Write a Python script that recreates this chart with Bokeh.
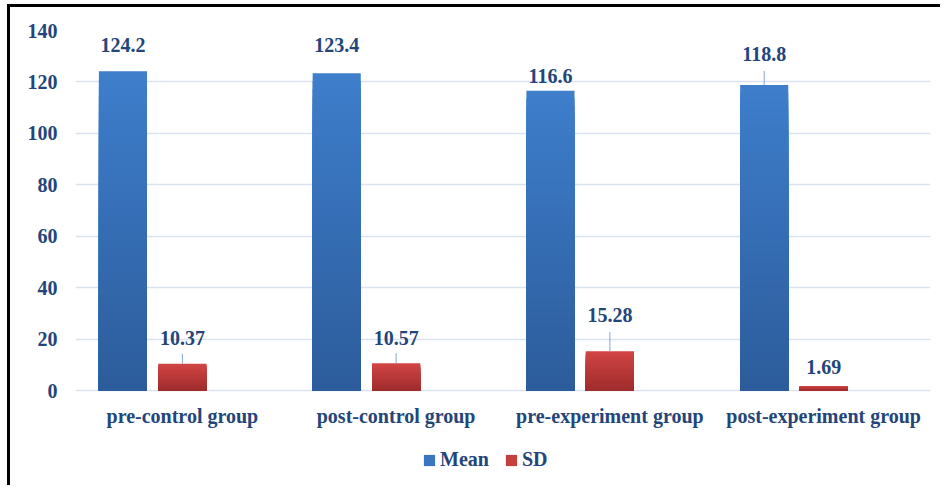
import math
from bokeh.plotting import figure
from bokeh.models import (ColumnDataSource, FactorRange, FixedTicker, Legend,
                          LegendItem, Range1d)
from bokeh.transform import dodge
from bokeh.core.properties import value
from bokeh.embed import file_html
from bokeh.resources import INLINE

# ---------------- data ----------------
categories = ["pre-control group", "post-control group",
              "pre-experiment group", "post-experiment group"]
mean_values = [124.2, 123.4, 116.6, 118.8]
sd_values = [10.37, 10.57, 15.28, 1.69]
mean_labels = ["124.2", "123.4", "116.6", "118.8"]
sd_labels = ["10.37", "10.57", "15.28", "1.69"]
y_ticks = [0, 20, 40, 60, 80, 100, 120, 140]

# ---------------- style ----------------
label_offsets_mean = [26, 28, 15, 31]     # px above bar top
label_offsets_sd = [26, 25, 36, 19]
leader_len_mean = [0, 0, 0, 14]           # px (0 = no leader line)
leader_len_sd = [10, 10, 19, 0]

TXT = "#23457A"
FONT = "'Liberation Serif'"
FS = "20px"
MEAN_TOP, MEAN_BOT = "#3E7ECC", "#2C5C9B"
SD_TOP, SD_BOT = "#D24545", "#9F2C2C"
GRID = "#D9E2F1"
BAR_W = 0.225
OFF_MEAN, OFF_SD = -0.278, 0.0
N_SLICES = 40

W, H = 933, 481
TOP_PX, ZERO_PX = 23, 383          # canvas y of the 140 and 0 gridlines
Y_MAX = 140
px_per_unit = (ZERO_PX - TOP_PX) / Y_MAX
y_min = -(H - ZERO_PX) / px_per_unit

p = figure(x_range=FactorRange(*categories, range_padding=0),
           y_range=Range1d(y_min, Y_MAX), width=W, height=H,
           output_backend="svg", toolbar_location=None,
           min_border_left=65, min_border_right=13,
           min_border_top=TOP_PX, min_border_bottom=0)
p.styles = {"margin-left": "7px", "margin-top": "4px",
            "border-left": "3px solid black", "border-top": "3px solid black"}
p.outline_line_color = None
p.background_fill_color = "white"
p.border_fill_color = "white"


def hx(c):
    c = c.lstrip("#")
    return [int(c[i:i + 2], 16) for i in (0, 2, 4)]


def mix(a, b, t):
    a, b = hx(a), hx(b)
    return "#%02x%02x%02x" % tuple(int(round(a[i] + (b[i] - a[i]) * t)) for i in range(3))


def gradient_bars(vals, off, top_c, bot_c, n=N_SLICES):
    # overlapping slices from the baseline, tallest drawn first -> no seams
    cats, tops, cols = [], [], []
    for k in reversed(range(n)):
        col = mix(bot_c, top_c, (k + 0.5) / n)
        for c, v in zip(categories, vals):
            cats.append(c)
            tops.append(v * (k + 1) / n)
            cols.append(col)
    src = ColumnDataSource(dict(cat=cats, top=tops, color=cols))
    return p.vbar(x=dodge("cat", off, range=p.x_range), width=BAR_W, bottom=0,
                  top="top", source=src, fill_color="color", line_color=None)


r_mean = gradient_bars(mean_values, OFF_MEAN, MEAN_TOP, MEAN_BOT)
r_sd = gradient_bars(sd_values, OFF_SD, SD_TOP, SD_BOT)

# leader lines
for off, vals, lens in ((OFF_MEAN, mean_values, leader_len_mean),
                        (OFF_SD, sd_values, leader_len_sd)):
    keep = [i for i, L in enumerate(lens) if L > 0]
    s = ColumnDataSource(dict(cat=[categories[i] for i in keep],
                              y=[vals[i] for i in keep],
                              length=[lens[i] for i in keep]))
    p.ray(x=dodge("cat", off, range=p.x_range), y="y", length="length",
          length_units="screen", angle=math.pi / 2, source=s,
          line_color="#7FA7DA", line_width=1)

# value labels
for off, vals, labs, offs in ((OFF_MEAN, mean_values, mean_labels, label_offsets_mean),
                              (OFF_SD, sd_values, sd_labels, label_offsets_sd)):
    s = ColumnDataSource(dict(cat=categories, y=vals, text=labs,
                              yo=[-o for o in offs]))
    p.text(x=dodge("cat", off, range=p.x_range), y="y", text="text",
           y_offset="yo", source=s, text_align="center",
           text_baseline="middle", text_font=value(FONT),
           text_font_style="bold", text_font_size=FS, text_color=TXT)

# axes
for ax in (p.xaxis[0], p.yaxis[0]):
    ax.axis_line_color = None
    ax.major_tick_line_color = None
    ax.minor_tick_line_color = None
    ax.major_label_text_font = FONT
    ax.major_label_text_font_style = "bold"
    ax.major_label_text_font_size = FS
    ax.major_label_text_color = TXT
p.xaxis.fixed_location = 0
p.yaxis.ticker = FixedTicker(ticks=y_ticks)
p.yaxis.major_label_standoff = 12
p.xaxis.major_label_standoff = 8
p.ygrid.grid_line_color = GRID
p.ygrid.grid_line_width = 1.5
p.xgrid.grid_line_color = None

# legend: swatch colour taken from an upper slice of each gradient bar
k_swatch = int(N_SLICES * 0.75)
idx = (N_SLICES - 1 - k_swatch) * len(categories)
legend = Legend(items=[LegendItem(label="Mean", renderers=[r_mean], index=idx),
                       LegendItem(label="SD", renderers=[r_sd], index=idx)],
                orientation="horizontal", location=(347, 17),
                glyph_width=14, glyph_height=14, label_standoff=4, spacing=15,
                padding=0, margin=0, border_line_color=None,
                background_fill_alpha=0,
                label_text_font=FONT, label_text_font_style="bold",
                label_text_font_size=FS, label_text_color=TXT)
p.add_layout(legend, "center")

open("out.html", "w").write(file_html(p, INLINE))
